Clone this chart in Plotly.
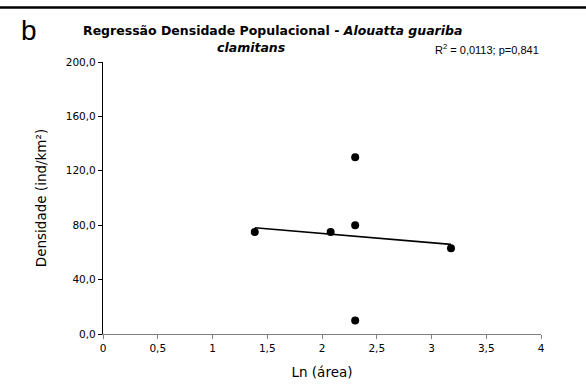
import numpy as np
import plotly.graph_objects as go

# Data: Ln(area) vs population density
ln_area = [1.386, 2.079, 2.303, 2.303, 2.303, 3.178]
densidade = [75.0, 75.0, 130.0, 80.0, 10.0, 63.0]

x_ticks = [0, 0.5, 1, 1.5, 2, 2.5, 3, 3.5, 4]
x_ticktext = ["0", "0,5", "1", "1,5", "2", "2,5", "3", "3,5", "4"]
y_ticks = [0, 40, 80, 120, 160, 200]
y_ticktext = ["0,0", "40,0", "80,0", "120,0", "160,0", "200,0"]

title_line1 = "Regressão Densidade Populacional - <i>Alouatta guariba</i>"
title_line2 = "<i>clamitans</i>"
stats_text = "R<sup>2</sup> = 0,0113; p=0,841"

# Linear regression line from the data
slope, intercept = np.polyfit(ln_area, densidade, 1)
fit_x = [min(ln_area), max(ln_area)]
fit_y = [slope * v + intercept for v in fit_x]

W, H = 586, 389
ml, mr, mt, mb = 103, 45, 62, 55
pw, ph = W - ml - mr, H - mt - mb

def px(x):
    return (x - ml) / pw

def py(y):
    return (H - mb - y) / ph

fig = go.Figure()
fig.add_trace(go.Scatter(x=fit_x, y=fit_y, mode="lines",
                         line=dict(color="black", width=1.6),
                         showlegend=False, hoverinfo="skip"))
fig.add_trace(go.Scatter(x=ln_area, y=densidade, mode="markers",
                         marker=dict(color="black", size=8),
                         showlegend=False))

fig.update_layout(
    width=W, height=H,
    margin=dict(l=ml, r=mr, t=mt, b=mb),
    paper_bgcolor="white", plot_bgcolor="white",
    font=dict(family="DejaVu Sans", size=10, color="black"),
    xaxis=dict(range=[0, 4], tickvals=x_ticks, ticktext=x_ticktext,
               showgrid=False, zeroline=False, showline=True,
               linecolor="#808080", linewidth=1.2,
               ticks="outside", ticklen=4, tickcolor="#808080",
               title=dict(text="Ln (área)", font=dict(size=13.5), standoff=14),
               tickfont=dict(size=10.5)),
    yaxis=dict(range=[0, 200], tickvals=y_ticks, ticktext=y_ticktext,
               showgrid=False, zeroline=False, showline=True,
               linecolor="black", linewidth=1.2,
               ticks="outside", ticklen=4, tickcolor="black",
               title=dict(text="Densidade (ind/km²)", font=dict(size=13.5), standoff=16),
               tickfont=dict(size=10.5)),
    shapes=[dict(type="line", xref="paper", yref="paper",
                 x0=px(0), x1=px(W), y0=py(7.5), y1=py(7.5),
                 line=dict(color="black", width=2.5))],
    annotations=[
        dict(text="b", xref="paper", yref="paper", x=px(29), y=py(31),
             xanchor="center", yanchor="middle", showarrow=False,
             font=dict(family="Liberation Sans", size=28)),
        dict(text="<b>" + title_line1 + "</b>", xref="paper", yref="paper",
             x=px(272), y=py(31), xanchor="center", yanchor="middle",
             showarrow=False, font=dict(family="DejaVu Sans", size=12.5)),
        dict(text="<b>" + title_line2 + "</b>", xref="paper", yref="paper",
             x=px(251), y=py(48), xanchor="center", yanchor="middle",
             showarrow=False, font=dict(family="DejaVu Sans", size=12.5)),
        dict(text=stats_text, xref="paper", yref="paper",
             x=px(541), y=py(49), xanchor="right", yanchor="middle",
             showarrow=False, font=dict(family="Liberation Sans", size=11)),
    ],
)

fig.write_html("out.html")
